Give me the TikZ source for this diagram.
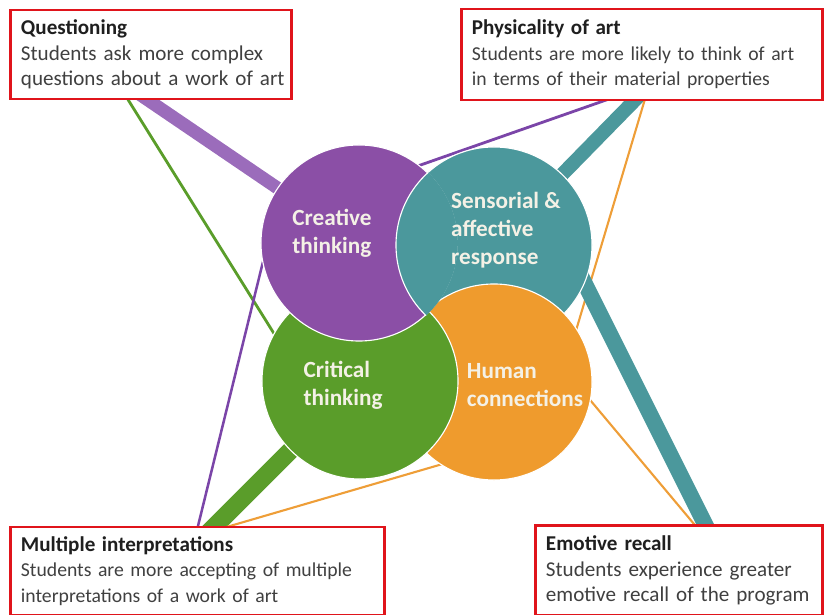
\documentclass[tikz,border=0pt]{standalone}
\usepackage{fontspec}
\setmainfont{Carlito}
\usetikzlibrary{backgrounds}

\definecolor{creativePurple}{HTML}{8B4FA6}
\definecolor{sensorialTeal}{HTML}{4B989C}
\definecolor{criticalGreen}{HTML}{5A9D2A}
\definecolor{humanOrange}{HTML}{EF9B2D}
\definecolor{purpleBand}{HTML}{9B6CBB}
\definecolor{purpleLine}{HTML}{7B45A8}
\definecolor{orangeLine}{HTML}{EE9E38}
\definecolor{boxRed}{HTML}{E0141B}
\definecolor{titleDark}{HTML}{1F1F1F}
\definecolor{bodyGray}{HTML}{404040}
\definecolor{bubbleText}{HTML}{F4F1E6}

\newcommand{\findtitle}[1]{\textcolor{titleDark}{\fontsize{15}{18.2}\selectfont\bfseries #1}}

\begin{document}
\begin{tikzpicture}[x=0.025cm, y=-0.025cm,
    bubble/.style={circle, minimum size=4.9cm, inner sep=0pt, draw=white, line width=0.8pt},
    bubbletext/.style={align=left, text=bubbleText, font=\fontsize{16.5}{20}\selectfont\bfseries},
    findbox/.style={rectangle, draw=boxRed, line width=2.1pt, fill=white, inner xsep=0.25cm, inner ysep=0pt, align=left, text=bodyGray, font=\fontsize{15}{18.2}\selectfont},
    smallbody/.style={font=\fontsize{14}{18.2}\selectfont},
    thinlink/.style={line width=#1, shorten <=-3pt, shorten >=-6pt},
    thicklink/.style={line width=#1, shorten <=-10pt, shorten >=-14pt}]
    \useasboundingbox (0,0) rectangle (825,615);
    % Circles (teal, orange, green, purple)
    \node[bubble, fill=sensorialTeal] (sensorial) at (494,245) {};
    \node[bubble, fill=humanOrange] (human) at (494,382) {};
    \node[bubble, fill=criticalGreen] (critical) at (360,381) {};
    \node[bubble, fill=creativePurple] (creative) at (359,243) {};
    % Teal lies over purple
    \begin{scope}
        \clip (creative) circle (2.47cm);
        \node[bubble, fill=sensorialTeal] at (sensorial) {};
    \end{scope}
    % Circle texts
    \node[bubbletext] (creativeText) at (332,233) {Creative\\thinking};
    \node[bubbletext] (sensorialText) at (506,230) {Sensorial \&\\affective\\response};
    \node[bubbletext] (criticalText) at (343,385) {Critical\\thinking};
    \node[bubbletext] (humanText) at (525,385) {Human\\connections};
    % Findings
    \node[findbox, text width=6.5cm, minimum height=2.225cm] (qbox) at (151,54.5) {\findtitle{Questioning}\\\mbox{Students ask more complex}\\\mbox{questions about a work of art}};
    \node[findbox, smallbody, text width=8.5cm, minimum height=2.275cm] (pbox) at (642,54.5) {\findtitle{Physicality of art}\\\mbox{Students are more likely to think of art}\\\mbox{in terms of their material properties}};
    \node[findbox, smallbody, text width=8.825cm, minimum height=2.2cm] (mbox) at (197.5,571) {\findtitle{Multiple interpretations}\\\mbox{Students are more accepting of multiple}\\\mbox{interpretations of a work of art}};
    \node[findbox, text width=6.65cm, minimum height=2.25cm] (ebox) at (679,570.5) {\findtitle{Emotive recall}\\\mbox{Students experience greater}\\\mbox{emotive recall of the program}};
    % Links
    \begin{pgfonlayer}{background}
        \coordinate (qa) at (145,98);
        \coordinate (qb) at (127,98);
        \coordinate (pa) at (609,99);
        \coordinate (pb) at (636,99);
        \coordinate (pc) at (645,99);
        \coordinate (ma) at (198,526);
        \coordinate (mb) at (215,526);
        \coordinate (mc) at (230,526);
        \coordinate (ea) at (705,524);
        \coordinate (eb) at (694,524);
        \draw[thicklink=9.2pt, draw=purpleBand] (qa) -- (creative.146);
        \draw[thinlink=2pt, draw=criticalGreen] (qb) -- (critical.151);
        \draw[thinlink=2pt, draw=purpleLine] (pa) -- (creative.52);
        \draw[thicklink=10pt, draw=sensorialTeal] (pb) -- (sensorial.46);
        \draw[thinlink=1.5pt, draw=orangeLine] (pc) -- (human.33);
        \draw[thinlink=1.8pt, draw=purpleLine] (ma) -- (creative.192);
        \draw[thicklink=12.8pt, draw=criticalGreen] (mb) -- (critical.225);
        \draw[thinlink=1.5pt, draw=orangeLine] (mc) -- (human.237);
        \draw[thicklink=11.4pt, draw=sensorialTeal] (ea) -- (sensorial.337);
        \draw[thinlink=1.5pt, draw=orangeLine] (eb) -- (human.349);
    \end{pgfonlayer}
\end{tikzpicture}
\end{document}
